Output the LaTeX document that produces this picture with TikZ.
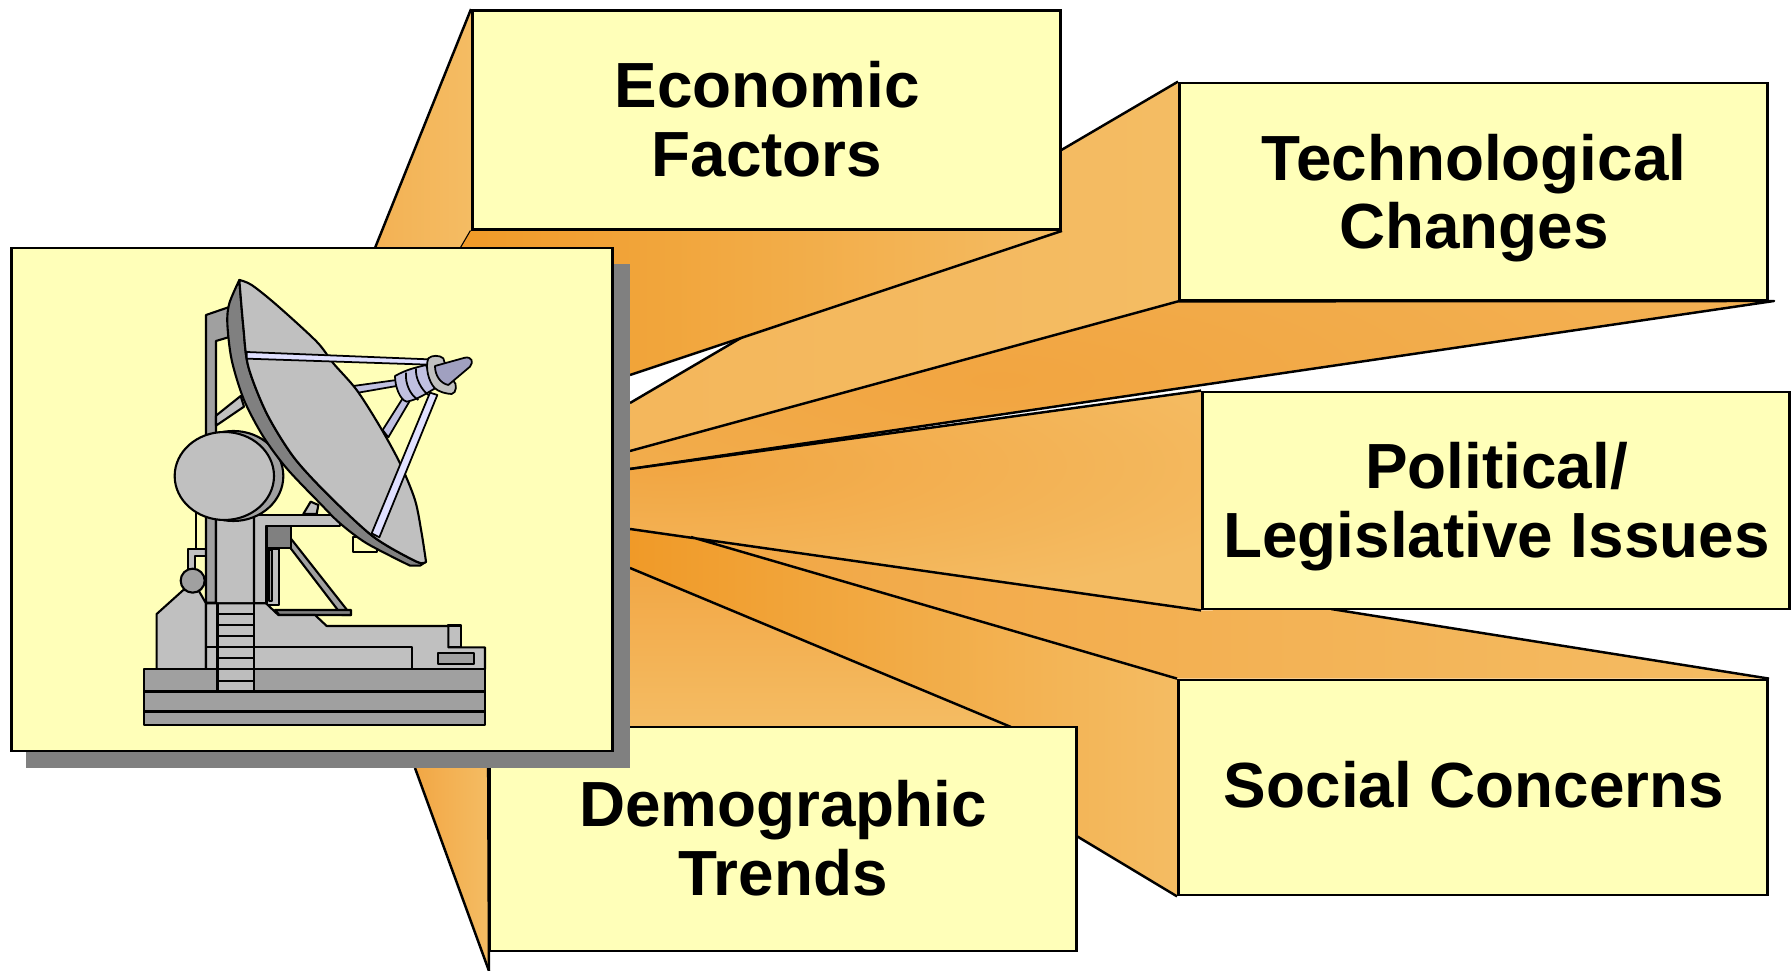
\documentclass[tikz,border=0pt]{standalone}
\usepackage{fontspec}
\setmainfont{Liberation Sans}
\usetikzlibrary{backgrounds}
\definecolor{boxyellow}{HTML}{FFFFB9}
\definecolor{lightor}{HTML}{F4BC63}
\definecolor{midor}{HTML}{F2A745}
\definecolor{deepor}{HTML}{F09A28}
\definecolor{gA}{HTML}{C0C0C0}
\definecolor{gB}{HTML}{A0A0A0}
\definecolor{gC}{HTML}{808080}
\definecolor{bluA}{HTML}{E0E0FF}
\definecolor{bluB}{HTML}{C0C0E0}
\definecolor{bluC}{HTML}{A0A0C0}
\tikzset{
  labelbox/.style={draw=black,fill=boxyellow,line width=0.75pt,inner sep=0pt},
  boxtext/.style={align=center,inner sep=0pt,font=\fontsize{18.15}{19.5}\selectfont\bfseries},
  wedgeline/.style={draw=black,line width=0.7pt,line join=round},
  part/.style={draw=black,line width=0.6pt,line join=round},
  thin part/.style={draw=black,line width=0.5pt,line join=round}
}
\begin{document}
\begin{tikzpicture}[x=0.01cm,y=-0.01cm]
\useasboundingbox (0,0) rectangle (1792,971);
% boxes
\node[labelbox,minimum width=5.88cm,minimum height=2.19cm] (econ) at (766.5,120) {};
\node[labelbox,minimum width=5.88cm,minimum height=2.17cm] (tech) at (1473.5,191.5) {};
\node[labelbox,minimum width=5.87cm,minimum height=2.17cm] (pol) at (1496,500.5) {};
\node[labelbox,minimum width=5.89cm,minimum height=2.15cm] (soc) at (1473,787.5) {};
\node[labelbox,minimum width=5.87cm,minimum height=2.24cm] (demo) at (783,839) {};
\node[boxtext] (econT) at (767,119) {Economic\\Factors};
\node[boxtext] (techT) at (1474,198) {Technological\\Changes};
\node[boxtext] (polT) at (1496.5,506.5) {Political/\\Legislative Issues};
\node[boxtext] (socT) at (1474,784.5) {Social Concerns};
\node[boxtext] (demoT) at (783,838) {Demographic\\Trends};
\node[fill=gC,minimum width=6.04cm,minimum height=5.04cm,inner sep=0pt] (shadow) at (328,516) {};
\node[labelbox,minimum width=6.01cm,minimum height=5.03cm] (main) at (312,499.5) {};
% free ends of the wedges
\coordinate (vA) at (630,375);
\coordinate (vB) at (630,403);
\coordinate (vC) at (630,451);
\coordinate (vD) at (630,469);
\coordinate (vE) at (630,529);
\coordinate (vF) at (630,568);
\coordinate (kink) at (691,537);
\coordinate (techfar) at (1774,301);
\begin{scope}[on background layer]
  % technological
  \shade[left color=lightor!75!midor,right color=lightor] (tech.north west) -- (vB) -- (vC) -- (tech.south west) -- cycle;
  \draw[wedgeline] (tech.north west) -- (vB);
  \begin{scope}
    \clip (tech.south west) -- (techfar) -- (vD) -- (vC) -- cycle;
    \fill[lightor] (620,250) rectangle (1790,480);
    \shade[inner color=midor!85!deepor,outer color=lightor] (1000,380) ellipse [x radius=1500,y radius=420];
  \end{scope}
  \draw[wedgeline] (tech.south west) -- (techfar) -- (vD) (vC) -- (tech.south west);
  % economic
  \shade[left color=midor!50!lightor,right color=lightor] (econ.north west) -- (375,248) -- (461,248) -- (econ.south west) -- cycle;
  \draw[wedgeline] (econ.north west) -- (375,248) (461,248) -- (econ.south west);
  \shade[left color=deepor,right color=lightor] (461,248) -- (econ.south west) -- (econ.south east) -- (vA) -- (613,375) -- (613,248) -- cycle;
  \draw[wedgeline] (econ.south east) -- (vA);
  % political
  \begin{scope}
    \clip (pol.north west) -- (pol.south west) -- (vE) -- (vD) -- cycle;
    \fill[lightor] (620,380) rectangle (1210,620);
    \shade[inner color=midor!90!deepor,outer color=lightor] (670,465) ellipse [x radius=640,y radius=150];
  \end{scope}
  \draw[wedgeline] (pol.north west) -- (vD);
  % social top face
  \shade[left color=midor,right color=lightor] (kink) -- (pol.south west) -- (1331,609) -- (soc.north east) -- (soc.north west) -- cycle;
  \draw[wedgeline] (1331,609) -- (soc.north east);
  % social left face
  \shade[left color=deepor,right color=lightor] (vE) -- (kink) -- (soc.north west) -- (soc.south west) -- (1000,790) -- (vF) -- cycle;
  \draw[wedgeline] (vE) -- (pol.south west) (kink) -- (soc.north west) (soc.south west) -- (1000,790);
  % demographic top face
  \shade[top color=midor,bottom color=lightor] (vF) -- (1011,727) -- (630,727) -- cycle;
  \draw[wedgeline] (vF) -- (1011,727);
  % demographic left face
  \shade[left color=midor,right color=lightor] (415,768) -- (demo.north west) -- (489,971) -- cycle;
  \draw[wedgeline] (415,768) -- (489,971);
  \draw[wedgeline] (demo.north west) -- (489,971);
\end{scope}
% antenna: lower part
\begin{scope}[shift={(120,500)},scale=1/3]
  \filldraw[part,fill=gA] (550,42) -- (572,5) -- (595,15) -- (590,42) -- cycle;
  \filldraw[part,fill=boxyellow] (698,110) rectangle (770,155);
  \draw[part] (228,30) -- (228,148);
  \filldraw[part,fill=gA] (205,208) -- (205,148) -- (258,148) -- (258,168) -- (225,168) -- (225,208) -- cycle;
  \filldraw[part,fill=gB] (258,40) -- (288,55) -- (288,308) -- (258,308) -- cycle;
  \filldraw[part,fill=gA] (402,45) -- (660,45) -- (660,77) -- (438,77) -- (438,310) -- (402,310) -- cycle;
  \filldraw[part,fill=gA] (288,55) -- (402,35) -- (402,310) -- (288,310) -- cycle;
  \filldraw[part,fill=gA] (440,147) rectangle (478,315);
  \filldraw[part,fill=gB] (448,150) rectangle (455,302);
  \filldraw[part,fill=gB] (512,115) -- (693,345) -- (665,345) -- (512,145) -- cycle;
  \filldraw[part,fill=gC] (465,330) -- (693,330) -- (693,345) -- (478,345) -- cycle;
  \filldraw[part,fill=gC] (440,78) rectangle (512,145);
  \filldraw[part,fill=gA] (110,342) -- (190,270) -- (235,270) -- (258,310) -- (258,508) -- (110,508) -- cycle;
  \filldraw[part,fill=gB] (218,242) circle [radius=36];
  \filldraw[part,fill=gA] (985,376) rectangle (1022,442);
  \filldraw[part,fill=gA] (258,310) -- (438,310) -- (475,345) -- (585,345) -- (620,378) -- (985,378) -- (985,442) -- (1095,442) -- (1095,508) -- (258,508) -- cycle;
  \draw[part] (985,378) -- (1022,378) -- (1022,442);
  \draw[part] (258,442) -- (876,442) -- (876,508);
  \filldraw[part,fill=gB] (955,460) rectangle (1063,493);
  \filldraw[part,fill=gB] (73,508) rectangle (1095,575);
  \filldraw[part,fill=gB] (73,575) rectangle (1095,635);
  \filldraw[part,fill=gB] (73,635) rectangle (1095,675);
  \fill[gA!90!gB] (292,508) rectangle (402,575);
  \draw[part,line width=0.75pt] (292,310) -- (292,575) (402,310) -- (402,575) (73,575) -- (1095,575) (73,635) -- (1095,635);
  \draw[part] (292,342) -- (402,342) (292,375) -- (402,375) (292,408) -- (402,408) (292,442) -- (402,442)
    (292,475) -- (402,475) (292,508) -- (402,508) (292,542) -- (402,542);
\end{scope}
% antenna: upper part
\begin{scope}[shift={(120,260)},scale=1/3]
  \filldraw[part,fill=gB] (258,165) -- (325,142) -- (325,232) -- (288,243) -- (288,525) -- (258,525) -- cycle;
  \filldraw[part,fill=gA] (288,467) -- (362,408) -- (372,440) -- (288,497) -- cycle;
  \filldraw[part,fill=gB] (340,648) ellipse [x radius=150,y radius=135];
  \filldraw[part,fill=gA] (313,648) ellipse [x radius=149,y radius=132];
  % struts behind the dish
  \filldraw[thin part,fill=bluB] (700,378) -- (830,360) -- (830,378) -- (715,398) -- cycle;
  \filldraw[thin part,fill=bluB] (788,510) -- (850,412) -- (868,425) -- (805,532) -- cycle;
  % dish
  \filldraw[part,fill=gC] plot[smooth] coordinates {(358,60) (328,130) (322,190) (335,300) (372,420) (430,530) (500,625) (600,730) (660,790) (740,850) (870,917)}
     -- (900,917) -- (918,905) -- plot[smooth] coordinates {(918,905) (890,905) (760,830) (620,700) (520,590) (440,460) (385,320) (370,200) (358,60)} -- cycle;
  \filldraw[part,fill=gA] plot[smooth] coordinates {(358,60) (395,75) (470,135) (590,245) (640,310) (710,390) (780,500) (840,610) (885,720) (905,820) (918,905)}
     -- plot[smooth] coordinates {(918,905) (890,905) (760,830) (620,700) (520,590) (440,460) (385,320) (370,200) (358,60)} -- cycle;
  % struts in front of the dish
  \filldraw[thin part,fill=bluA] (380,276) -- (925,298) -- (925,314) -- (380,296) -- cycle;
  \filldraw[thin part,fill=bluA] (930,398) -- (952,405) -- (778,832) -- (755,820) -- cycle;
  % feed
  \filldraw[thin part,fill=bluB] (825,348) .. controls (860,328) and (890,322) .. (918,315) -- (945,385) .. controls (920,400) and (890,420) .. (860,425) .. controls (840,420) and (825,380) .. (825,348) -- cycle;
  \draw[thin part] (858,338) .. controls (855,370) and (870,405) .. (895,420);
  \draw[thin part] (888,325) .. controls (885,355) and (905,390) .. (925,405);
  \filldraw[thin part,fill=gA] (925,295) .. controls (935,285) and (960,285) .. (970,295) -- (975,312) -- (960,350) -- (1000,362) .. controls (1012,370) and (1010,400) .. (995,402) .. controls (980,402) and (955,395) .. (945,385) .. controls (925,365) and (915,320) .. (925,295) -- cycle;
  \filldraw[thin part,fill=bluC] (945,318) -- (1035,293) .. controls (1055,290) and (1062,305) .. (1050,320) -- (985,375) .. controls (960,370) and (945,345) .. (945,318) -- cycle;
\end{scope}
\end{tikzpicture}
\end{document}
